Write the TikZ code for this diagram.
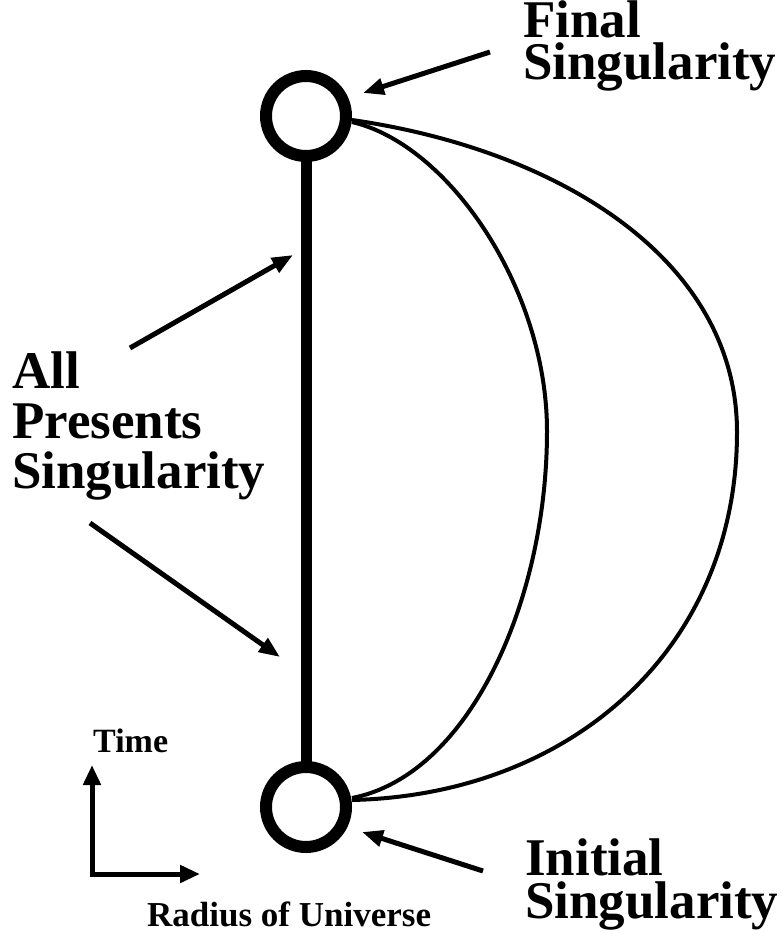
\documentclass[tikz,border=0pt]{standalone}
\usepackage{fontspec}
\setmainfont{Liberation Serif}
\usetikzlibrary{arrows.meta}
\tikzset{
  bigtxt/.style={anchor=base west, inner sep=0pt, align=left},
  smalltxt/.style={anchor=base west, inner sep=0pt, font=\bfseries\fontsize{35}{35}\selectfont},
  ring/.style={circle, draw, line width=12pt, minimum size=80pt, inner sep=0pt, outer sep=0pt},
  pointer/.style={line width=5pt, -{Triangle[length=21pt,width=16pt]}},
  axis/.style={line width=5pt, -{Triangle[length=20pt,width=17pt]}},
  world/.style={line width=4pt},
}
\begin{document}
\begin{tikzpicture}[x=1pt,y=-1pt]
\useasboundingbox (0,0) rectangle (780,942);
% singularities
\node[ring] (top) at (306,116) {};
\node[ring] (bot) at (306,807) {};
\draw[line width=11pt] (top.south) -- (bot.north);
% world lines
\coordinate (ts1) at (352,120);
\coordinate (ts2) at (352,122);
\coordinate (bs1) at (352,800);
\coordinate (bs2) at (352,798);
\coordinate (outerapex) at (737,432);
\coordinate (innerapex) at (547,431);
\draw[world] (ts1) .. controls (560,150) and (737,260) .. (outerapex)
  .. controls (737,650) and (570,795) .. (bs1);
\draw[world] (ts2) .. controls (450,145) and (547,290) .. (innerapex)
  .. controls (547,600) and (470,775) .. (bs2);
% labels
\node[bigtxt, font=\bfseries\fontsize{53}{42}\selectfont] (final) at (523,79) {Final\\Singularity};
\node[bigtxt, font=\bfseries\fontsize{53}{43}\selectfont] (initial) at (525,918) {Initial\\Singularity};
\node[bigtxt, font=\bfseries\fontsize{53}{50}\selectfont] (allp) at (12,488) {All\\Presents\\Singularity};
% pointers
\coordinate (fT) at (490,52);
\coordinate (fH) at (363,93);
\coordinate (iT) at (483,871);
\coordinate (iH) at (362,832);
\coordinate (aT1) at (130,348);
\coordinate (aH1) at (293,255);
\coordinate (aT2) at (90,523);
\coordinate (aH2) at (280,657);
\draw[pointer] (fT) -- (fH);
\draw[pointer] (iT) -- (iH);
\draw[pointer] (aT1) -- (aH1);
\draw[pointer] (aT2) -- (aH2);
% axes
\coordinate (origin) at (92,874);
\coordinate (corner) at (89.5,874);
\coordinate (timeend) at (92,765);
\coordinate (radend) at (200,874);
\draw[axis] (origin) -- (timeend);
\draw[axis] (corner) -- (radend);
\node[smalltxt, font=\bfseries\fontsize{34}{34}\selectfont] (timelbl) at (93,752) {Time};
\node[smalltxt] (radlbl) at (147,926) {Radius of Universe};
\end{tikzpicture}
\end{document}
